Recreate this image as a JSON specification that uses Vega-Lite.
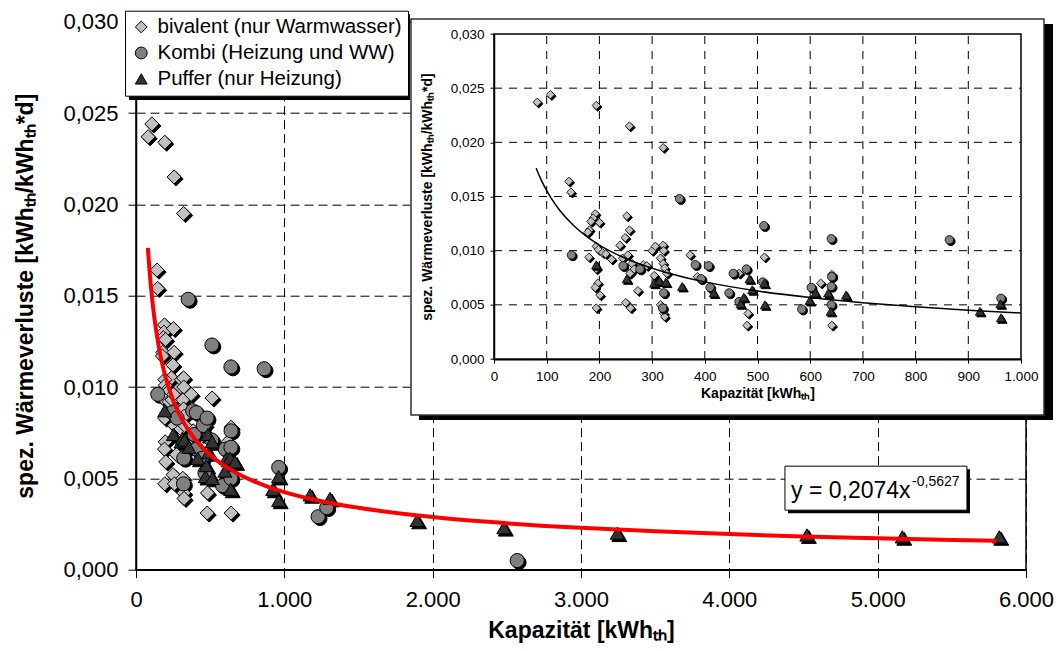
{
  "$schema": "https://vega.github.io/schema/vega-lite/v6.json",
  "width": 890,
  "height": 548,
  "autosize": {"type": "none"},
  "padding": {"left": 136, "top": 21.7, "right": 35, "bottom": 81.3},
  "background": "white",
  "config": {
    "locale": {"number": {"decimal": ",", "thousands": ".", "grouping": [3], "currency": ["", " €"]}},
    "font": "Liberation Sans",
    "view": {"stroke": "black", "strokeWidth": 1.5},
    "axis": {"domainColor": "black", "tickColor": "black", "labelColor": "black", "titleColor": "black", "labelFont": "Liberation Sans", "titleFont": "Liberation Sans", "labelFlush": false, "labelOverlap": false},
    "legend": {"symbolStrokeColor": "black", "symbolStrokeWidth": 1}
  },
  "datasets": {
    "pts": [
      {"k": 82, "v": 0.0237, "typ": "bivalent (nur Warmwasser)"},
      {"k": 107, "v": 0.0244, "typ": "bivalent (nur Warmwasser)"},
      {"k": 194, "v": 0.0234, "typ": "bivalent (nur Warmwasser)"},
      {"k": 257, "v": 0.0215, "typ": "bivalent (nur Warmwasser)"},
      {"k": 321, "v": 0.0195, "typ": "bivalent (nur Warmwasser)"},
      {"k": 142, "v": 0.0164, "typ": "bivalent (nur Warmwasser)"},
      {"k": 146, "v": 0.0154, "typ": "bivalent (nur Warmwasser)"},
      {"k": 192, "v": 0.0134, "typ": "bivalent (nur Warmwasser)"},
      {"k": 188, "v": 0.0130, "typ": "bivalent (nur Warmwasser)"},
      {"k": 184, "v": 0.0127, "typ": "bivalent (nur Warmwasser)"},
      {"k": 200, "v": 0.0126, "typ": "bivalent (nur Warmwasser)"},
      {"k": 181, "v": 0.0119, "typ": "bivalent (nur Warmwasser)"},
      {"k": 178, "v": 0.0117, "typ": "bivalent (nur Warmwasser)"},
      {"k": 252, "v": 0.0132, "typ": "bivalent (nur Warmwasser)"},
      {"k": 257, "v": 0.0119, "typ": "bivalent (nur Warmwasser)"},
      {"k": 249, "v": 0.0112, "typ": "bivalent (nur Warmwasser)"},
      {"k": 239, "v": 0.0105, "typ": "bivalent (nur Warmwasser)"},
      {"k": 194, "v": 0.0104, "typ": "bivalent (nur Warmwasser)"},
      {"k": 198, "v": 0.0101, "typ": "bivalent (nur Warmwasser)"},
      {"k": 206, "v": 0.0098, "typ": "bivalent (nur Warmwasser)"},
      {"k": 212, "v": 0.0097, "typ": "bivalent (nur Warmwasser)"},
      {"k": 180, "v": 0.0094, "typ": "bivalent (nur Warmwasser)"},
      {"k": 223, "v": 0.0092, "typ": "bivalent (nur Warmwasser)"},
      {"k": 244, "v": 0.0093, "typ": "bivalent (nur Warmwasser)"},
      {"k": 254, "v": 0.0096, "typ": "bivalent (nur Warmwasser)"},
      {"k": 194, "v": 0.0083, "typ": "bivalent (nur Warmwasser)"},
      {"k": 197, "v": 0.0070, "typ": "bivalent (nur Warmwasser)"},
      {"k": 192, "v": 0.0066, "typ": "bivalent (nur Warmwasser)"},
      {"k": 201, "v": 0.0059, "typ": "bivalent (nur Warmwasser)"},
      {"k": 194, "v": 0.0047, "typ": "bivalent (nur Warmwasser)"},
      {"k": 250, "v": 0.0052, "typ": "bivalent (nur Warmwasser)"},
      {"k": 259, "v": 0.0047, "typ": "bivalent (nur Warmwasser)"},
      {"k": 262, "v": 0.0088, "typ": "bivalent (nur Warmwasser)"},
      {"k": 258, "v": 0.0079, "typ": "bivalent (nur Warmwasser)"},
      {"k": 266, "v": 0.0083, "typ": "bivalent (nur Warmwasser)"},
      {"k": 283, "v": 0.0087, "typ": "bivalent (nur Warmwasser)"},
      {"k": 290, "v": 0.0086, "typ": "bivalent (nur Warmwasser)"},
      {"k": 300, "v": 0.0100, "typ": "bivalent (nur Warmwasser)"},
      {"k": 306, "v": 0.0104, "typ": "bivalent (nur Warmwasser)"},
      {"k": 304, "v": 0.0077, "typ": "bivalent (nur Warmwasser)"},
      {"k": 273, "v": 0.0063, "typ": "bivalent (nur Warmwasser)"},
      {"k": 321, "v": 0.0105, "typ": "bivalent (nur Warmwasser)"},
      {"k": 322, "v": 0.0100, "typ": "bivalent (nur Warmwasser)"},
      {"k": 316, "v": 0.0093, "typ": "bivalent (nur Warmwasser)"},
      {"k": 321, "v": 0.0088, "typ": "bivalent (nur Warmwasser)"},
      {"k": 324, "v": 0.0084, "typ": "bivalent (nur Warmwasser)"},
      {"k": 328, "v": 0.0079, "typ": "bivalent (nur Warmwasser)"},
      {"k": 316, "v": 0.0050, "typ": "bivalent (nur Warmwasser)"},
      {"k": 322, "v": 0.0042, "typ": "bivalent (nur Warmwasser)"},
      {"k": 324, "v": 0.0039, "typ": "bivalent (nur Warmwasser)"},
      {"k": 372, "v": 0.0096, "typ": "bivalent (nur Warmwasser)"},
      {"k": 386, "v": 0.0076, "typ": "bivalent (nur Warmwasser)"},
      {"k": 465, "v": 0.0079, "typ": "bivalent (nur Warmwasser)"},
      {"k": 482, "v": 0.0042, "typ": "bivalent (nur Warmwasser)"},
      {"k": 480, "v": 0.0031, "typ": "bivalent (nur Warmwasser)"},
      {"k": 513, "v": 0.0094, "typ": "bivalent (nur Warmwasser)"},
      {"k": 620, "v": 0.0070, "typ": "bivalent (nur Warmwasser)"},
      {"k": 641, "v": 0.0078, "typ": "bivalent (nur Warmwasser)"},
      {"k": 641, "v": 0.0031, "typ": "bivalent (nur Warmwasser)"},
      {"k": 147, "v": 0.0096, "typ": "Kombi (Heizung und WW)"},
      {"k": 352, "v": 0.0148, "typ": "Kombi (Heizung und WW)"},
      {"k": 512, "v": 0.0123, "typ": "Kombi (Heizung und WW)"},
      {"k": 640, "v": 0.0111, "typ": "Kombi (Heizung und WW)"},
      {"k": 864, "v": 0.0110, "typ": "Kombi (Heizung und WW)"},
      {"k": 245, "v": 0.0086, "typ": "Kombi (Heizung und WW)"},
      {"k": 277, "v": 0.0083, "typ": "Kombi (Heizung und WW)"},
      {"k": 382, "v": 0.0087, "typ": "Kombi (Heizung und WW)"},
      {"k": 407, "v": 0.0086, "typ": "Kombi (Heizung und WW)"},
      {"k": 393, "v": 0.0074, "typ": "Kombi (Heizung und WW)"},
      {"k": 410, "v": 0.0066, "typ": "Kombi (Heizung und WW)"},
      {"k": 454, "v": 0.0079, "typ": "Kombi (Heizung und WW)"},
      {"k": 479, "v": 0.0083, "typ": "Kombi (Heizung und WW)"},
      {"k": 446, "v": 0.0061, "typ": "Kombi (Heizung und WW)"},
      {"k": 465, "v": 0.0053, "typ": "Kombi (Heizung und WW)"},
      {"k": 510, "v": 0.0071, "typ": "Kombi (Heizung und WW)"},
      {"k": 584, "v": 0.0046, "typ": "Kombi (Heizung und WW)"},
      {"k": 602, "v": 0.0066, "typ": "Kombi (Heizung und WW)"},
      {"k": 641, "v": 0.0076, "typ": "Kombi (Heizung und WW)"},
      {"k": 640, "v": 0.0067, "typ": "Kombi (Heizung und WW)"},
      {"k": 640, "v": 0.0050, "typ": "Kombi (Heizung und WW)"},
      {"k": 962, "v": 0.0056, "typ": "Kombi (Heizung und WW)"},
      {"k": 322, "v": 0.0061, "typ": "Kombi (Heizung und WW)"},
      {"k": 320, "v": 0.0047, "typ": "Kombi (Heizung und WW)"},
      {"k": 1228, "v": 0.0029, "typ": "Kombi (Heizung und WW)"},
      {"k": 1286, "v": 0.0034, "typ": "Kombi (Heizung und WW)"},
      {"k": 2570, "v": 0.0005, "typ": "Kombi (Heizung und WW)"},
      {"k": 194, "v": 0.0087, "typ": "Puffer (nur Heizung)"},
      {"k": 252, "v": 0.0074, "typ": "Puffer (nur Heizung)"},
      {"k": 304, "v": 0.0070, "typ": "Puffer (nur Heizung)"},
      {"k": 314, "v": 0.0072, "typ": "Puffer (nur Heizung)"},
      {"k": 326, "v": 0.0071, "typ": "Puffer (nur Heizung)"},
      {"k": 357, "v": 0.0067, "typ": "Puffer (nur Heizung)"},
      {"k": 417, "v": 0.0061, "typ": "Puffer (nur Heizung)"},
      {"k": 468, "v": 0.0051, "typ": "Puffer (nur Heizung)"},
      {"k": 474, "v": 0.0057, "typ": "Puffer (nur Heizung)"},
      {"k": 485, "v": 0.0074, "typ": "Puffer (nur Heizung)"},
      {"k": 490, "v": 0.0064, "typ": "Puffer (nur Heizung)"},
      {"k": 513, "v": 0.0070, "typ": "Puffer (nur Heizung)"},
      {"k": 514, "v": 0.0050, "typ": "Puffer (nur Heizung)"},
      {"k": 599, "v": 0.0054, "typ": "Puffer (nur Heizung)"},
      {"k": 610, "v": 0.0061, "typ": "Puffer (nur Heizung)"},
      {"k": 634, "v": 0.0061, "typ": "Puffer (nur Heizung)"},
      {"k": 639, "v": 0.0044, "typ": "Puffer (nur Heizung)"},
      {"k": 668, "v": 0.0059, "typ": "Puffer (nur Heizung)"},
      {"k": 922, "v": 0.0044, "typ": "Puffer (nur Heizung)"},
      {"k": 961, "v": 0.0051, "typ": "Puffer (nur Heizung)"},
      {"k": 962, "v": 0.0038, "typ": "Puffer (nur Heizung)"},
      {"k": 1174, "v": 0.0041, "typ": "Puffer (nur Heizung)"},
      {"k": 1308, "v": 0.0039, "typ": "Puffer (nur Heizung)"},
      {"k": 1895, "v": 0.0027, "typ": "Puffer (nur Heizung)"},
      {"k": 2480, "v": 0.0023, "typ": "Puffer (nur Heizung)"},
      {"k": 3245, "v": 0.0020, "typ": "Puffer (nur Heizung)"},
      {"k": 4523, "v": 0.0019, "typ": "Puffer (nur Heizung)"},
      {"k": 5166, "v": 0.0018, "typ": "Puffer (nur Heizung)"},
      {"k": 5820, "v": 0.0018, "typ": "Puffer (nur Heizung)"}
    ],
    "fit": [
      {"k": 80, "v": 0.01762}, {"k": 90, "v": 0.01649}, {"k": 100, "v": 0.01554}, {"k": 110, "v": 0.01473},
      {"k": 125, "v": 0.01371}, {"k": 150, "v": 0.01237}, {"k": 175, "v": 0.01134}, {"k": 200, "v": 0.01052},
      {"k": 250, "v": 0.00928}, {"k": 300, "v": 0.00838}, {"k": 350, "v": 0.00768}, {"k": 400, "v": 0.00712},
      {"k": 500, "v": 0.00628}, {"k": 600, "v": 0.00567}, {"k": 700, "v": 0.00520}, {"k": 800, "v": 0.00482},
      {"k": 900, "v": 0.00451}, {"k": 1000, "v": 0.00425}, {"k": 1250, "v": 0.00375}, {"k": 1500, "v": 0.00339},
      {"k": 2000, "v": 0.00288}, {"k": 2500, "v": 0.00254}, {"k": 3000, "v": 0.00229}, {"k": 3500, "v": 0.00210},
      {"k": 4000, "v": 0.00195}, {"k": 4500, "v": 0.00182}, {"k": 5000, "v": 0.00172}, {"k": 5500, "v": 0.00163},
      {"k": 5800, "v": 0.00158}
    ],
    "gx": [{"k": 100}, {"k": 200}, {"k": 300}, {"k": 400}, {"k": 500}, {"k": 600}, {"k": 700}, {"k": 800}, {"k": 900}],
    "gy": [{"v": 0.005}, {"v": 0.010}, {"v": 0.015}, {"v": 0.020}, {"v": 0.025}]
  },
  "layer": [
    {
      "layer": [
        {
          "data": {"name": "pts"},
          "transform": [{"filter": "datum.typ == 'bivalent (nur Warmwasser)'"}],
          "mark": {"type": "point", "shape": "diamond", "filled": true, "color": "black", "stroke": "black", "strokeWidth": 1, "xOffset": 2, "yOffset": 2, "size": 200, "opacity": 1},
          "encoding": {
            "x": {"field": "k", "type": "quantitative",
              "scale": {"domain": [0, 6000], "nice": false, "zero": false},
              "axis": {"orient": "bottom", "values": [0, 1000, 2000, 3000, 4000, 5000, 6000], "format": ",d",
                "grid": true, "gridColor": "black", "gridDash": [9, 5], "gridWidth": 1, "gridOpacity": 1,
                "tickSize": 8, "tickWidth": 1, "domainWidth": 1.5, "labelFontSize": 22, "labelPadding": 12,
                "title": "Kapazität [kWhₜₕ]", "titleFontSize": 23, "titleFontWeight": "bold", "titlePadding": 9}},
            "y": {"field": "v", "type": "quantitative",
              "scale": {"domain": [0, 0.03], "nice": false, "zero": false},
              "axis": {"orient": "left", "values": [0, 0.005, 0.01, 0.015, 0.02, 0.025, 0.03], "format": ".3f",
                "grid": true, "gridColor": "black", "gridDash": [9, 5], "gridWidth": 1, "gridOpacity": 1,
                "tickSize": 8, "tickWidth": 1, "domainWidth": 1.5, "labelFontSize": 22, "labelPadding": 10,
                "title": "spez. Wärmeverluste [kWhₜₕ/kWhₜₕ*d]", "titleFontSize": 23, "titleFontWeight": "bold", "titlePadding": 25}}
          }
        },
        {
          "data": {"name": "pts"},
          "transform": [{"filter": "datum.typ == 'Kombi (Heizung und WW)'"}],
          "mark": {"type": "point", "shape": "circle", "filled": true, "color": "black", "stroke": "black", "strokeWidth": 1, "xOffset": 2, "yOffset": 2, "size": 190, "opacity": 1},
          "encoding": {"x": {"field": "k", "type": "quantitative"}, "y": {"field": "v", "type": "quantitative"}}
        },
        {
          "data": {"name": "pts"},
          "transform": [{"filter": "datum.typ == 'Puffer (nur Heizung)'"}],
          "mark": {"type": "point", "shape": "triangle-up", "filled": true, "color": "black", "stroke": "black", "strokeWidth": 1, "xOffset": 2, "yOffset": 2, "size": 220, "opacity": 1},
          "encoding": {"x": {"field": "k", "type": "quantitative"}, "y": {"field": "v", "type": "quantitative"}}
        },
        {
          "data": {"name": "pts"},
          "mark": {"type": "point", "filled": true, "strokeWidth": 1, "size": 200, "opacity": 1},
          "encoding": {
            "x": {"field": "k", "type": "quantitative"},
            "y": {"field": "v", "type": "quantitative"},
            "shape": {"field": "typ", "type": "nominal",
              "scale": {"domain": ["bivalent (nur Warmwasser)", "Kombi (Heizung und WW)", "Puffer (nur Heizung)"], "range": ["diamond", "circle", "triangle-up"]},
              "legend": {"title": null, "orient": "none", "legendX": -11, "legendY": -11, "fillColor": "white", "strokeColor": "black",
                "padding": 6, "labelFontSize": 20.5, "labelFont": "Liberation Sans", "labelColor": "black", "symbolSize": 140,
                "symbolStrokeWidth": 1, "rowPadding": 5, "labelOffset": 6, "labelLimit": 400, "symbolOpacity": 1}},
            "fill": {"field": "typ", "type": "nominal",
              "scale": {"domain": ["bivalent (nur Warmwasser)", "Kombi (Heizung und WW)", "Puffer (nur Heizung)"], "range": ["#C0C0C0", "#808080", "#333333"]},
              "legend": {"title": null, "orient": "none", "legendX": -11, "legendY": -11, "fillColor": "white", "strokeColor": "black",
                "padding": 6, "labelFontSize": 20.5, "labelFont": "Liberation Sans", "labelColor": "black", "symbolSize": 140,
                "symbolStrokeWidth": 1, "rowPadding": 5, "labelOffset": 6, "labelLimit": 400, "symbolOpacity": 1}},
            "stroke": {"field": "typ", "type": "nominal",
              "scale": {"domain": ["bivalent (nur Warmwasser)", "Kombi (Heizung und WW)", "Puffer (nur Heizung)"], "range": ["black", "black", "black"]},
              "legend": {"title": null, "orient": "none", "legendX": -11, "legendY": -11, "fillColor": "white", "strokeColor": "black",
                "padding": 6, "labelFontSize": 20.5, "labelFont": "Liberation Sans", "labelColor": "black", "symbolSize": 140,
                "symbolStrokeWidth": 1, "rowPadding": 5, "labelOffset": 6, "labelLimit": 400, "symbolOpacity": 1}}
          }
        },
        {
          "data": {"name": "fit"},
          "mark": {"type": "line", "color": "#FF0000", "strokeWidth": 4, "interpolate": "monotone"},
          "encoding": {"x": {"field": "k", "type": "quantitative"}, "y": {"field": "v", "type": "quantitative"}}
        },
        {
          "data": {"values": [{}]},
          "mark": {"type": "rect", "color": "black", "opacity": 1},
          "encoding": {"x": {"datum": -47}, "x2": {"datum": 1847}, "y": {"datum": 0.03042}, "y2": {"datum": 0.02571}}
        },
        {
          "data": {"values": [{}]},
          "mark": {"type": "rect", "color": "black", "opacity": 1, "xOffset": 3, "x2Offset": 3, "yOffset": 3, "y2Offset": 3},
          "encoding": {"x": {"datum": 4375}, "x2": {"datum": 5602}, "y": {"datum": 0.005668}, "y2": {"datum": 0.003258}}
        },
        {
          "data": {"values": [{}]},
          "mark": {"type": "rect", "fill": "white", "stroke": "black", "strokeWidth": 1, "opacity": 1},
          "encoding": {"x": {"datum": 4375}, "x2": {"datum": 5602}, "y": {"datum": 0.005668}, "y2": {"datum": 0.003258}}
        },
        {
          "data": {"values": [{}]},
          "mark": {"type": "text", "text": "y = 0,2074x", "fontSize": 23, "font": "Liberation Sans", "align": "left", "baseline": "alphabetic", "color": "black"},
          "encoding": {"x": {"datum": 4416}, "y": {"datum": 0.00392}}
        },
        {
          "data": {"values": [{}]},
          "mark": {"type": "text", "text": "-0,5627", "fontSize": 14, "font": "Liberation Sans", "align": "left", "baseline": "alphabetic", "color": "black"},
          "encoding": {"x": {"datum": 5232}, "y": {"datum": 0.00457}}
        }
      ]
    },
    {
      "layer": [
        {
          "data": {"values": [{}]},
          "mark": {"type": "rect", "color": "black", "opacity": 1},
          "encoding": {"x": {"datum": -142.3}, "x2": {"datum": 1060.7}, "y": {"datum": 0.030924}, "y2": {"datum": -0.005631}}
        },
        {
          "data": {"values": [{}]},
          "mark": {"type": "rect", "fill": "white", "stroke": "#333333", "strokeWidth": 1.5, "opacity": 1},
          "encoding": {"x": {"datum": -157.5}, "x2": {"datum": 1043.6}, "y": {"datum": 0.031385}, "y2": {"datum": -0.005169}}
        },
        {
          "data": {"name": "gx"},
          "mark": {"type": "rule", "color": "black", "strokeWidth": 1, "strokeDash": [8, 7]},
          "encoding": {
            "x": {"field": "k", "type": "quantitative",
              "scale": {"domain": [0, 1000], "range": [358, 885], "nice": false, "zero": false},
              "axis": {"orient": "bottom", "offset": -210.5, "values": [0, 100, 200, 300, 400, 500, 600, 700, 800, 900, 1000], "format": ",d",
                "grid": false, "tickSize": 4, "tickWidth": 1, "domainWidth": 1.5, "labelFontSize": 13.5, "labelPadding": 6,
                "title": "Kapazität [kWhₜₕ]", "titleFontSize": 14, "titleFontWeight": "bold", "titlePadding": 4, "zindex": 1}},
            "y": {"datum": 0},
            "y2": {"datum": 0.03}
          }
        },
        {
          "data": {"name": "gy"},
          "mark": {"type": "rule", "color": "black", "strokeWidth": 1, "strokeDash": [8, 7]},
          "encoding": {
            "y": {"field": "v", "type": "quantitative",
              "scale": {"domain": [0, 0.03], "range": [337.3, 12.3], "nice": false, "zero": false},
              "axis": {"orient": "left", "offset": -358, "values": [0, 0.005, 0.01, 0.015, 0.02, 0.025, 0.03], "format": ".3f",
                "grid": false, "tickSize": 4, "tickWidth": 1, "domainWidth": 1.5, "labelFontSize": 13.5, "labelPadding": 6,
                "title": "spez. Wärmeverluste [kWhₜₕ/kWhₜₕ*d]", "titleFontSize": 14, "titleFontWeight": "bold", "titlePadding": 16, "zindex": 1}},
            "x": {"datum": 0},
            "x2": {"datum": 1000}
          }
        },
        {
          "data": {"values": [{}]},
          "mark": {"type": "rect", "filled": false, "stroke": "black", "strokeWidth": 1.5, "opacity": 1},
          "encoding": {"x": {"datum": 0}, "x2": {"datum": 1000}, "y": {"datum": 0}, "y2": {"datum": 0.03}}
        },
        {
          "data": {"name": "pts"},
          "transform": [{"filter": "datum.k <= 1000 && datum.typ == 'bivalent (nur Warmwasser)'"}],
          "mark": {"type": "point", "shape": "diamond", "filled": true, "color": "black", "stroke": "black", "strokeWidth": 1, "xOffset": 1.5, "yOffset": 1.5, "size": 72, "opacity": 1},
          "encoding": {"x": {"field": "k", "type": "quantitative"}, "y": {"field": "v", "type": "quantitative"}}
        },
        {
          "data": {"name": "pts"},
          "transform": [{"filter": "datum.k <= 1000 && datum.typ == 'bivalent (nur Warmwasser)'"}],
          "mark": {"type": "point", "shape": "diamond", "filled": true, "color": "#C0C0C0", "stroke": "black", "strokeWidth": 0.8, "size": 72, "opacity": 1},
          "encoding": {"x": {"field": "k", "type": "quantitative"}, "y": {"field": "v", "type": "quantitative"}}
        },
        {
          "data": {"name": "pts"},
          "transform": [{"filter": "datum.k <= 1000 && datum.typ == 'Kombi (Heizung und WW)'"}],
          "mark": {"type": "point", "shape": "circle", "filled": true, "color": "black", "stroke": "black", "strokeWidth": 1, "xOffset": 1.5, "yOffset": 1.5, "size": 72, "opacity": 1},
          "encoding": {"x": {"field": "k", "type": "quantitative"}, "y": {"field": "v", "type": "quantitative"}}
        },
        {
          "data": {"name": "pts"},
          "transform": [{"filter": "datum.k <= 1000 && datum.typ == 'Kombi (Heizung und WW)'"}],
          "mark": {"type": "point", "shape": "circle", "filled": true, "color": "#808080", "stroke": "black", "strokeWidth": 0.8, "size": 72, "opacity": 1},
          "encoding": {"x": {"field": "k", "type": "quantitative"}, "y": {"field": "v", "type": "quantitative"}}
        },
        {
          "data": {"name": "pts"},
          "transform": [{"filter": "datum.k <= 1000 && datum.typ == 'Puffer (nur Heizung)'"}],
          "mark": {"type": "point", "shape": "triangle-up", "filled": true, "color": "black", "stroke": "black", "strokeWidth": 1, "xOffset": 1.5, "yOffset": 1.5, "size": 85, "opacity": 1},
          "encoding": {"x": {"field": "k", "type": "quantitative"}, "y": {"field": "v", "type": "quantitative"}}
        },
        {
          "data": {"name": "pts"},
          "transform": [{"filter": "datum.k <= 1000 && datum.typ == 'Puffer (nur Heizung)'"}],
          "mark": {"type": "point", "shape": "triangle-up", "filled": true, "color": "#333333", "stroke": "black", "strokeWidth": 0.8, "size": 85, "opacity": 1},
          "encoding": {"x": {"field": "k", "type": "quantitative"}, "y": {"field": "v", "type": "quantitative"}}
        },
        {
          "data": {"name": "fit"},
          "transform": [{"filter": "datum.k <= 1000"}],
          "mark": {"type": "line", "color": "black", "strokeWidth": 1.5, "interpolate": "monotone"},
          "encoding": {"x": {"field": "k", "type": "quantitative"}, "y": {"field": "v", "type": "quantitative"}}
        }
      ]
    }
  ],
  "resolve": {"scale": {"x": "independent", "y": "independent"}, "axis": {"x": "independent", "y": "independent"}}
}
